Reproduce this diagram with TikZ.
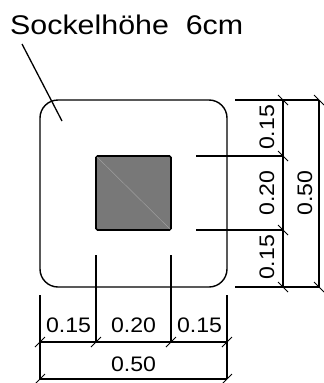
\documentclass[tikz,border=0pt]{standalone}
\usepackage{fontspec}
\setmainfont{Liberation Sans}
\tikzset{
  outline/.style={draw=black,line width=1.4pt,rounded corners=18pt},
  core/.style={draw=black,fill=black!53,line width=1.6pt,rounded corners=1.5pt},
  extline/.style={draw=black,line width=1.5pt},
  dimline/.style={draw=black,line width=1.2pt},
  tickmark/.style={draw=black,line width=1pt},
  dimtext/.style={inner sep=0pt,font=\fontsize{21}{21}\selectfont},
  bigtext/.style={inner sep=0pt,anchor=base west,font=\fontsize{27}{27}\selectfont},
  leader/.style={draw=black,line width=1.3pt}
}
\begin{document}
\begin{tikzpicture}[x=1pt,y=-1pt]
\useasboundingbox (0,0) rectangle (324,383);
\fill[white] (0,0) rectangle (324,383);
\node[bigtext,xscale=1.125] (title) at (10,34) {Sockelhöhe\ \ 6cm};
% bodies
\draw[outline] (40,100) rectangle (227,287);
\draw[core] (96,156) rectangle (171,230);
\draw[black!38,line width=.5pt] (97,157) -- (170,229);
\coordinate (la) at (22,44); \coordinate (lb) at (62,121);
\draw[leader] (la) -- (lb);
% vertical dimension chain
\foreach \n/\xs/\y in {r1/235/100,r2/196/156,r3/196/230,r4/235/287}{
  \coordinate (\n s) at (\xs,\y);
  \coordinate (\n a) at (283,\y);
  \coordinate (\n b) at (319,\y);
}
\draw[extline] (r1s) -- (r1b);
\draw[extline] (r2s) -- (r2a);
\draw[extline] (r3s) -- (r3a);
\draw[extline] (r4s) -- (r4b);
\draw[dimline] (r1a) -- (r4a);
\draw[dimline] (r1b) -- (r4b);
\foreach \n in {r1a,r2a,r3a,r4a,r1b,r4b}
  \draw[tickmark] ([shift={(-5,-5)}]\n) -- ([shift={(5,5)}]\n);
% horizontal dimension chain
\foreach \n/\x/\ys in {b1/40/295,b2/96/255,b3/171/255,b4/227/295}{
  \coordinate (\n s) at (\x,\ys);
  \coordinate (\n a) at (\x,342);
  \coordinate (\n b) at (\x,379);
}
\draw[extline] (b1s) -- (b1b);
\draw[extline] (b2s) -- (b2a);
\draw[extline] (b3s) -- (b3a);
\draw[extline] (b4s) -- (b4b);
\draw[dimline] (b1a) -- (b4a);
\draw[dimline] (b1b) -- (b4b);
\foreach \n in {b1a,b2a,b3a,b4a,b1b,b4b}
  \draw[tickmark] ([shift={(-5,5)}]\n) -- ([shift={(5,-5)}]\n);
% labels
\node[dimtext,xscale=1.1] (h1) at (68.5,325.5) {0.15};
\node[dimtext,xscale=1.1] (h2) at (133.5,325.5) {0.20};
\node[dimtext,xscale=1.1] (h3) at (199.5,325.5) {0.15};
\node[dimtext,xscale=1.1] (h4) at (133.5,364.5) {0.50};
\node[dimtext,rotate=90,xscale=1.1] (v1) at (267,127.5) {0.15};
\node[dimtext,rotate=90,xscale=1.1] (v2) at (267,193) {0.20};
\node[dimtext,rotate=90,xscale=1.1] (v3) at (267,257.5) {0.15};
\node[dimtext,rotate=90,xscale=1.1] (v4) at (305,193) {0.50};
\end{tikzpicture}
\end{document}
